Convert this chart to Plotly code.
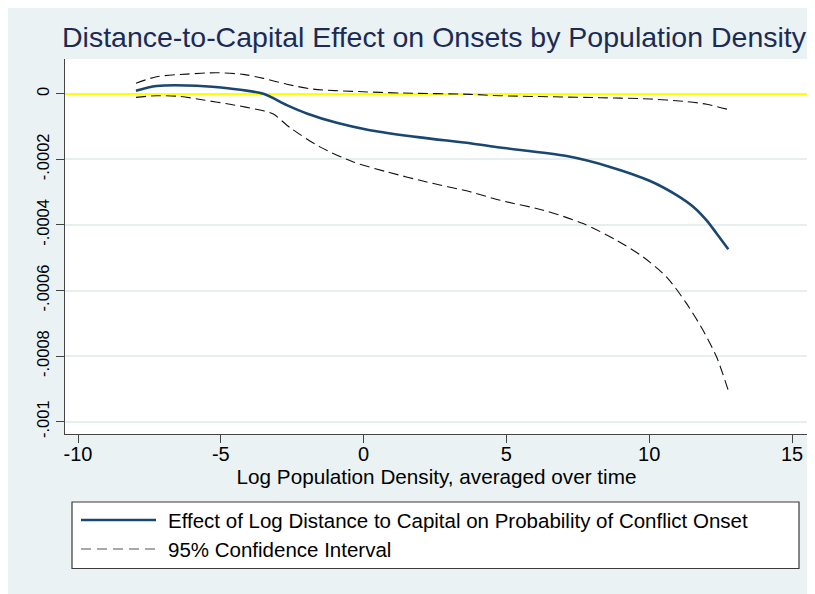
import plotly.graph_objects as go

# ---- data ----
x_effect = [-7.97, -7.25, -5.84, -4.68, -3.51, -2.69, -1.99, -0.94, 0.22, 1.97, 3.73,
            4.78, 7.11, 8.63, 10.03, 10.96, 11.55, 12.01, 12.36, 12.77]
y_effect = [0.09e-4, 0.235e-4, 0.245e-4, 0.16e-4, 0.0, -0.345e-4, -0.60e-4, -0.885e-4,
            -1.11e-4, -1.33e-4, -1.51e-4, -1.64e-4, -1.90e-4, -2.23e-4, -2.66e-4,
            -3.09e-4, -3.45e-4, -3.86e-4, -4.26e-4, -4.74e-4]

x_upper = [-7.97, -7.25, -6.19, -5.14, -4.21, -3.51, -2.69, -1.76, -0.36, 1.39, 3.73,
           4.78, 8.28, 10.03, 11.31, 12.01, 12.77]
y_upper = [0.32e-4, 0.52e-4, 0.60e-4, 0.64e-4, 0.59e-4, 0.47e-4, 0.29e-4, 0.14e-4,
           0.073e-4, 0.021e-4, -0.018e-4, -0.06e-4, -0.12e-4, -0.16e-4, -0.24e-4,
           -0.32e-4, -0.48e-4]

x_lower = [-7.97, -7.25, -6.43, -5.61, -4.68, -3.51, -3.16, -2.58, -1.53, -0.36, 0.81,
           2.21, 3.73, 4.78, 6.29, 7.69, 8.86, 9.79, 10.61, 11.31, 11.89, 12.36, 12.77]
y_lower = [-0.11e-4, -0.06e-4, -0.08e-4, -0.19e-4, -0.32e-4, -0.52e-4, -0.62e-4,
           -1.03e-4, -1.62e-4, -2.08e-4, -2.38e-4, -2.69e-4, -2.99e-4, -3.25e-4,
           -3.55e-4, -3.96e-4, -4.47e-4, -4.98e-4, -5.59e-4, -6.40e-4, -7.22e-4,
           -8.03e-4, -9.05e-4]

x_ticks = [-10, -5, 0, 5, 10, 15]
x_ticktext = ["-10", "-5", "0", "5", "10", "15"]
y_ticks = [-0.001, -0.0008, -0.0006, -0.0004, -0.0002, 0]
y_ticktext = ["-.001", "-.0008", "-.0006", "-.0004", "-.0002", "0"]

title_text = "Distance-to-Capital Effect on Onsets by Population Density"
x_title = "Log Population Density, averaged over time"
legend_labels = ["Effect of Log Distance to Capital on Probability of Conflict Onset",
                 "95% Confidence Interval"]

# ---- style ----
W, H = 807, 586          # page body adds an 8px margin
ML, MR, MT, MB = 57, 7, 51, 160
BG = "#EAF2F3"
NAVY = "#1A476F"
TITLE_C = "#1C2B55"
FONT = "Liberation Sans, Arial, sans-serif"
pw = W - ML - MR
ph = H - MT - MB


def px_x(px):
    return (px - ML) / pw


def px_y(py):
    return (H - MB - py) / ph


fig = go.Figure()
fig.add_trace(go.Scatter(x=x_effect, y=y_effect, mode="lines",
                         line=dict(color=NAVY, width=2.6, shape="spline", smoothing=0.8),
                         name=legend_labels[0], showlegend=False, hoverinfo="skip"))
fig.add_trace(go.Scatter(x=x_upper, y=y_upper, mode="lines",
                         line=dict(color="#111111", width=1.1, dash="10px,5px",
                                   shape="spline", smoothing=0.8),
                         name=legend_labels[1], showlegend=False, hoverinfo="skip"))
fig.add_trace(go.Scatter(x=x_lower, y=y_lower, mode="lines",
                         line=dict(color="#111111", width=1.1, dash="10px,5px",
                                   shape="spline", smoothing=0.8),
                         name=legend_labels[1], showlegend=False, hoverinfo="skip"))

shapes = [
    # legend box
    dict(type="rect", xref="paper", yref="paper", x0=px_x(64), x1=px_x(791), y0=px_y(560.5), y1=px_y(494),
         fillcolor="white", line=dict(color="#3a3a3a", width=1.2)),
    # legend samples
    dict(type="line", xref="paper", yref="paper", x0=px_x(73), x1=px_x(148), y0=px_y(512), y1=px_y(512),
         line=dict(color=NAVY, width=2.6)),
    dict(type="line", xref="paper", yref="paper", x0=px_x(73), x1=px_x(148), y0=px_y(541), y1=px_y(541),
         line=dict(color="#555555", width=1.1, dash="10px,6px")),
]

annotations = [
    dict(text=legend_labels[0], xref="paper", yref="paper", x=px_x(158), y=px_y(512),
         xanchor="left", yanchor="middle", showarrow=False,
         font=dict(family=FONT, size=20.5, color="black")),
    dict(text=legend_labels[1], xref="paper", yref="paper", x=px_x(158), y=px_y(541),
         xanchor="left", yanchor="middle", showarrow=False,
         font=dict(family=FONT, size=20.5, color="black")),
]

fig.update_layout(
    width=W, height=H,
    margin=dict(l=ML, r=MR, t=MT, b=MB, pad=0),
    paper_bgcolor=BG, plot_bgcolor="white",
    font=dict(family=FONT, size=18, color="black"),
    title=dict(text=title_text, x=px_x(426), xref="paper", xanchor="center",
               y=1 - 29 / H, yref="container", yanchor="middle",
               font=dict(family=FONT, size=28.5, color=TITLE_C)),
    shapes=shapes, annotations=annotations,
    showlegend=False,
    xaxis=dict(range=[-10.455, 15.56], tickvals=x_ticks, ticktext=x_ticktext,
               ticks="outside", ticklen=8, ticklabelstandoff=-6,
               tickcolor="#444444", tickwidth=1, showline=True, linecolor="#444444",
               linewidth=1.2, showgrid=False, zeroline=False, mirror=False,
               tickfont=dict(family=FONT, size=20, color="black"),
               title=dict(text=x_title, font=dict(family=FONT, size=20.7, color="black"), standoff=2)),
    yaxis=dict(range=[-0.0010376, 0.000106], tickvals=y_ticks, ticktext=y_ticktext,
               ticks="outside", ticklen=8, tickcolor="#444444", tickwidth=1,
               showline=True, linecolor="#444444", linewidth=1.2,
               showgrid=True, gridcolor="#E6EEF0", gridwidth=1.5,
               zeroline=True, zerolinecolor="#FFFF00", zerolinewidth=2,
               tickangle=-90, tickfont=dict(family=FONT, size=16.5, color="black")),
)

fig.write_html("out.html")
